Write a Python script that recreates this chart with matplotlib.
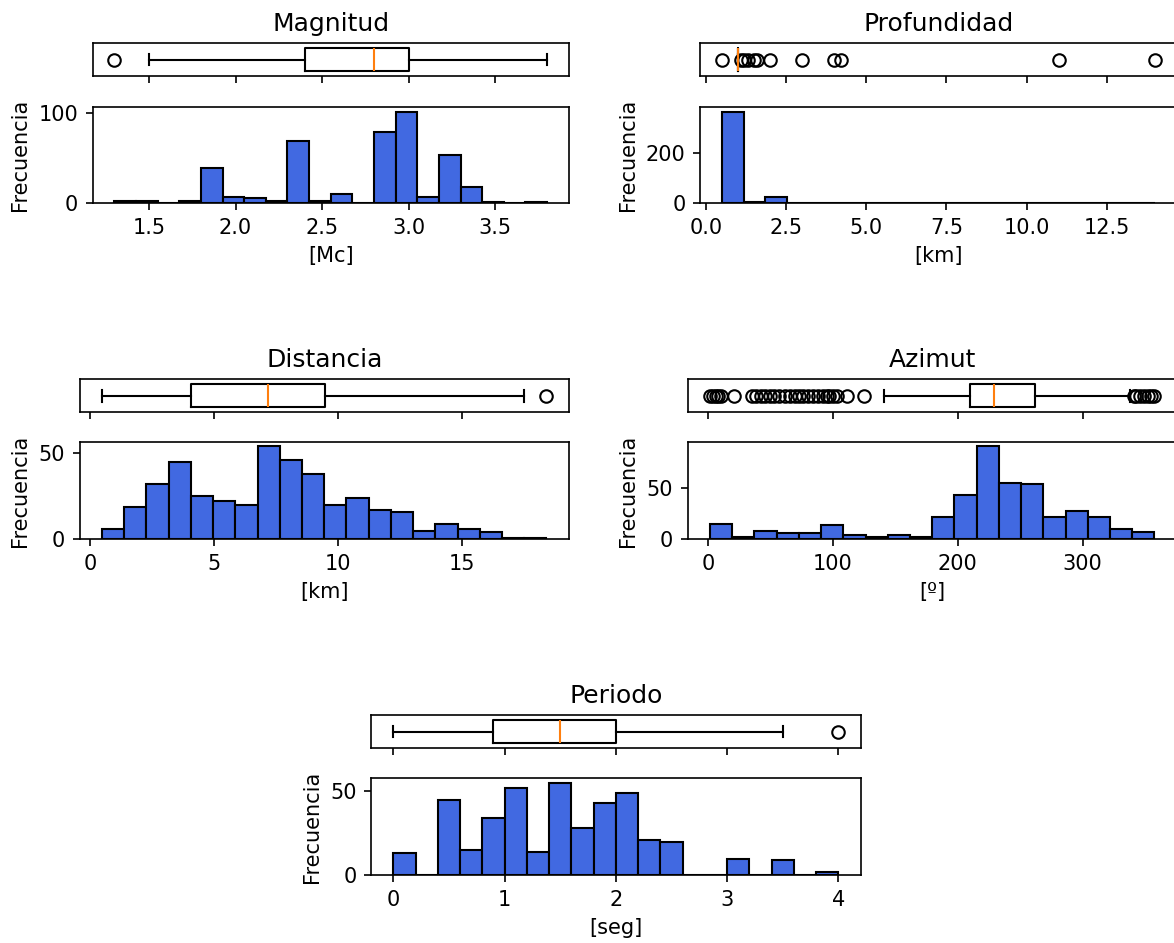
import numpy as np
import matplotlib
matplotlib.use("Agg")
import matplotlib.pyplot as plt

W, H, DPI = 1174, 943, 150

# ---------------- data ----------------
titles = ["Magnitud", "Profundidad", "Distancia", "Azimut", "Periodo"]
xlabels = ["[Mc]", "[km]", "[km]", "[º]", "[seg]"]

# histogram ranges (min, max of the data) and 20-bin counts
mag_range = (1.3, 3.8)
mag_counts = [3, 2, 0, 3, 39, 7, 6, 2, 69, 2, 10, 0, 79, 101, 7, 53, 18, 1, 0, 1]
prof_range = (0.5, 14.0)
prof_counts = [361, 6, 26, 2, 0, 3, 0, 0, 0, 0, 0, 0, 0, 0, 3, 0, 0, 0, 0, 1]
dist_range = (0.47, 18.4)
dist_counts = [6, 19, 32, 45, 25, 22, 20, 54, 46, 38, 20, 24, 17, 16, 5, 9, 6, 4, 1, 1]
azi_range = (1.5, 357.5)
azi_counts = [15, 2, 8, 6, 6, 14, 4, 2, 4, 2, 22, 43, 90, 54, 53, 22, 27, 22, 10, 7]
per_range = (0.0, 4.0)
per_counts = [13, 0, 45, 15, 34, 52, 14, 55, 28, 43, 49, 21, 20, 0, 0, 10, 0, 9, 0, 2]

# boxplot statistics: (whislo, q1, median, q3, whishi) and outliers
mag_box = (1.5, 2.4, 2.8, 3.0, 3.8)
mag_fliers = [1.3]
prof_box = (1.0, 1.0, 1.0, 1.0, 1.0)
prof_fliers = [0.5, 1.1, 1.2, 1.3, 1.5, 1.6, 2.0, 3.0, 4.0, 4.2, 11.0, 14.0]
dist_box = (0.47, 4.05, 7.17, 9.47, 17.48)
dist_fliers = [18.4]
azi_box = (141.0, 209.8, 229.2, 262.0, 338.0)
azi_fliers = [1.5, 4, 6, 8, 10, 21, 35, 38, 42, 46, 50, 53, 57, 62, 66, 70, 73,
              76, 80, 84, 88, 92, 95, 97, 100, 103, 111, 125,
              341, 343, 346, 349, 352, 355, 357.5]
per_box = (0.0, 0.9, 1.5, 2.0, 3.5)
per_fliers = [4.0]

# ---------------- layout (pixel boxes: left, top, right, bottom) ----------------
def rect(l, t, r, b):
    return [l / W, 1 - b / H, (r - l) / W, (b - t) / H]

layout = [
    ((92.7, 43.3, 568.7, 75.8), (92.7, 107.3, 568.7, 203.3)),
    ((700.3, 43.3, 1176.5, 75.8), (700.3, 107.3, 1176.5, 203.3)),
    ((79.7, 379.3, 568.7, 412.3), (79.7, 441.5, 568.7, 539.3)),
    ((687.7, 379.3, 1176.7, 412.3), (687.7, 441.5, 1176.7, 539.3)),
    ((371.0, 715.0, 860.7, 748.3), (371.0, 778.3, 860.7, 875.3)),
]

fig = plt.figure(figsize=(W / DPI, H / DPI), dpi=DPI)

panels = [
    (mag_range, mag_counts, mag_box, mag_fliers),
    (prof_range, prof_counts, prof_box, prof_fliers),
    (dist_range, dist_counts, dist_box, dist_fliers),
    (azi_range, azi_counts, azi_box, azi_fliers),
    (per_range, per_counts, per_box, per_fliers),
]

for (brect, hrect), title, xl, (rng, counts, bx, fl) in zip(layout, titles, xlabels, panels):
    ax_h = fig.add_axes(rect(*hrect))
    ax_b = fig.add_axes(rect(*brect), sharex=ax_h)

    edges = np.linspace(rng[0], rng[1], len(counts) + 1)
    ax_h.hist(edges[:-1], bins=edges, weights=counts, color="royalblue",
              edgecolor="black", linewidth=1.0)
    ax_h.set_ylabel("Frecuencia")
    ax_h.set_xlabel(xl)

    stats = [dict(whislo=bx[0], q1=bx[1], med=bx[2], q3=bx[3], whishi=bx[4],
                  fliers=np.array(fl))]
    ax_b.bxp(stats, positions=[1], widths=0.7, orientation="horizontal",
             manage_ticks=False)
    ax_b.set_ylim(0.5, 1.5)
    ax_b.set_yticks([])
    ax_b.tick_params(labelbottom=False)
    ax_b.set_title(title)

fig.savefig("out.png", dpi=DPI)
